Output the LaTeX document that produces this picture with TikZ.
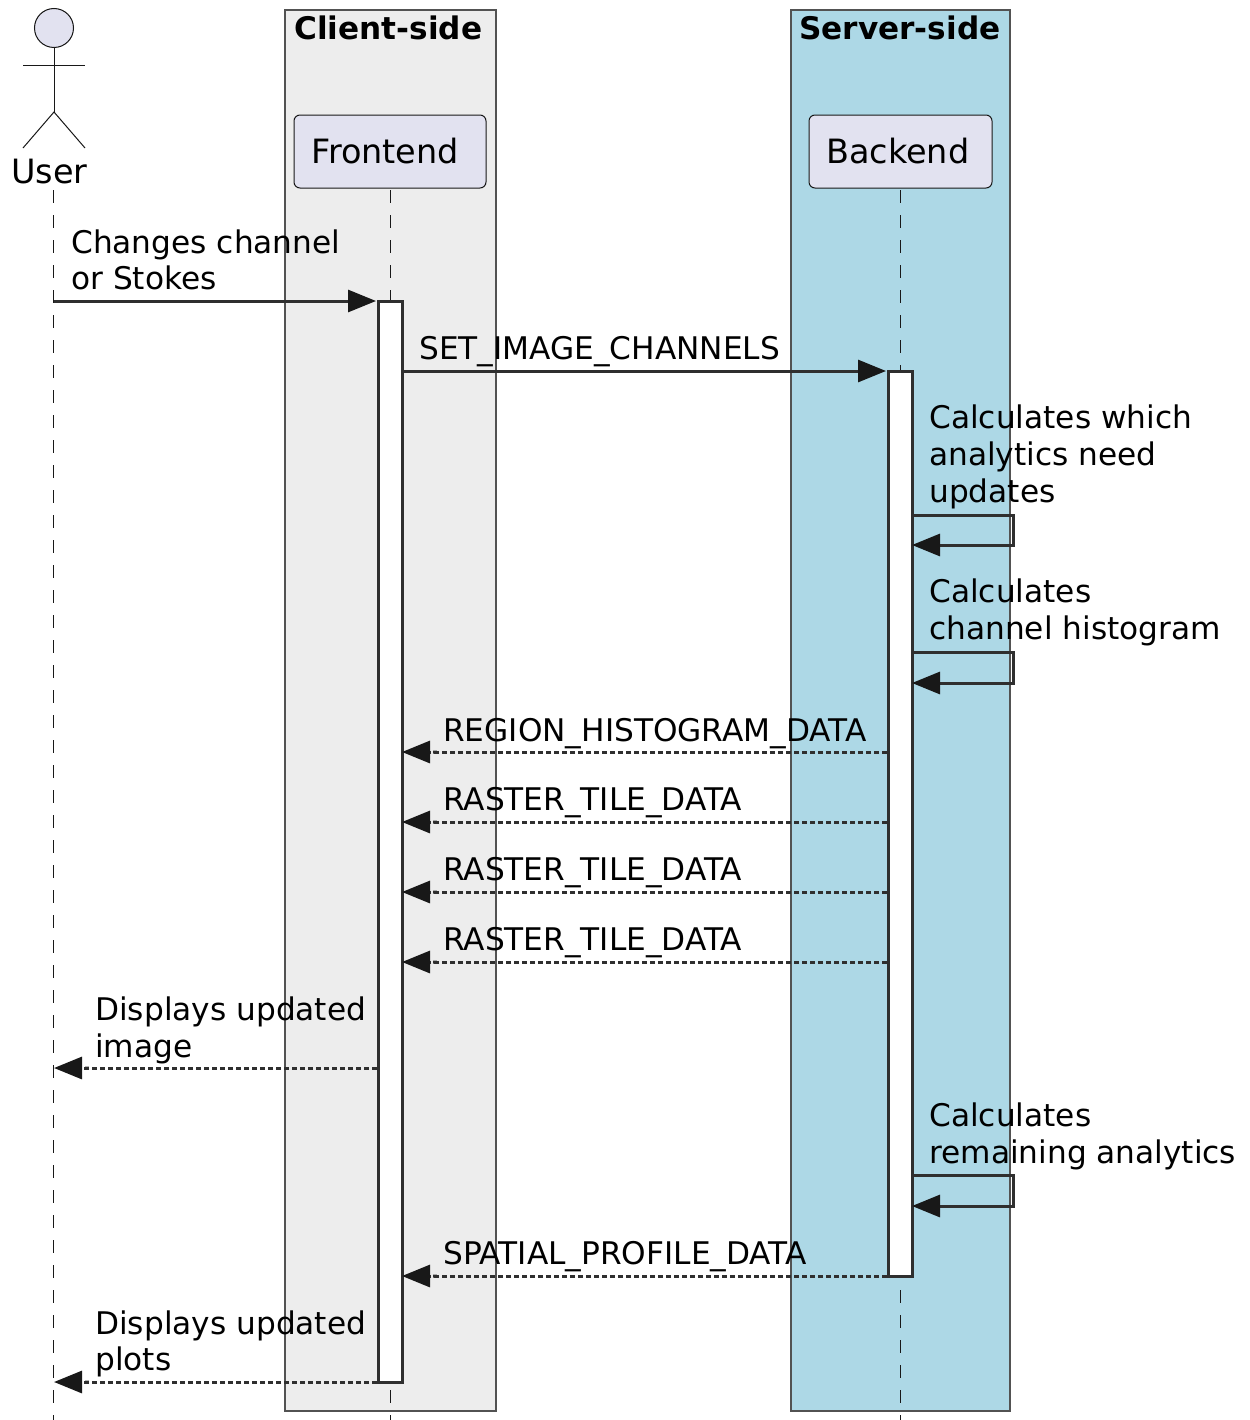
\documentclass[tikz,border=0pt]{standalone}
\usepackage{fontspec}
\setmainfont{DejaVu Sans}
\usetikzlibrary{arrows.meta}
\definecolor{ink}{HTML}{181818}
\definecolor{partfill}{HTML}{E2E2F0}
\definecolor{clientfill}{HTML}{EDEDED}
\definecolor{serverfill}{HTML}{ADD8E6}
\tikzset{
  x=0.75pt,y=-0.75pt,
  groupbox/.style={draw=ink!75,line width=0.8pt},
  grouptitle/.style={anchor=base west,inner sep=0pt,font=\fontsize{23.35}{27}\selectfont\bfseries,text=black},
  part/.style={draw=ink,fill=partfill,line width=0.75pt,rounded corners=4.5pt,minimum height=54.75pt,inner sep=0pt,outer sep=0pt,anchor=north west},
  parttext/.style={anchor=base west,inner sep=0pt,font=\fontsize{25.1}{30}\selectfont,text=black},
  actorline/.style={draw=ink,line width=0.75pt},
  lifeline/.style={draw=ink,line width=0.75pt,dash pattern=on 9.75pt off 9pt},
  activation/.style={draw=ink!90,fill=white,line width=2.25pt,inner sep=0pt,outer sep=0pt,minimum width=18pt,anchor=north west},
  msg/.style={draw=ink!90,line width=2.25pt,-{Triangle[length=21pt,width=16.5pt,color=ink]}},
  reply/.style={draw=ink!90,line width=2.25pt,dash pattern=on 3.6pt off 2.4pt,-{Butt Cap[sep=2.25pt]Triangle[length=21pt,width=16.5pt,color=ink]}},
  label/.style={anchor=base west,align=left,inner sep=0pt,font=\fontsize{23.4}{27.4}\selectfont,text=black},
}
\begin{document}
\begin{tikzpicture}
\useasboundingbox (0,0) rectangle (1249,1420);
% groups
\path[groupbox,fill=clientfill] (285,10) rectangle (496,1411);
\path[groupbox,fill=serverfill] (791,10) rectangle (1010,1411);
\node[grouptitle] (clienttitle) at (294,40) {Client-side};
\node[grouptitle] (servertitle) at (799,40) {Server-side};
% participants
\node[part,minimum width=144pt] (frontend) at (294,115) {};
\node[parttext] (frontendtext) at (311,163) {Frontend};
\node[part,minimum width=137.25pt] (backend) at (809,115) {};
\node[parttext] (backendtext) at (826,163) {Backend};
% actor
\node[circle,draw=ink,fill=partfill,line width=0.75pt,minimum size=29.25pt,inner sep=0pt] (head) at (54,28) {};
\coordinate (hip) at (54,112);
\coordinate (armL) at (23,66);
\coordinate (armR) at (85,66);
\coordinate (legL) at (23,148);
\coordinate (legR) at (85,148);
\draw[actorline] (head.south) -- (hip);
\draw[actorline] (armL) -- (armR);
\draw[actorline] (legL) -- (hip) -- (legR);
\node[parttext] (user) at (11,183) {User};
% lifelines
\coordinate (userTop) at (53,190);
\coordinate (frontTop) at (390,190);
\coordinate (backTop) at (900,190);
\coordinate (userEnd) at (53,1420);
\coordinate (frontEnd) at (390,1420);
\coordinate (backEnd) at (900,1420);
\draw[lifeline] (userTop) -- (userEnd);
\draw[lifeline] (frontTop) -- (frontEnd);
\draw[lifeline] (backTop) -- (backEnd);
% activations
\node[activation,minimum height=810.75pt] (factive) at (378,301) {};
\node[activation,minimum height=678.75pt] (bactive) at (888,371) {};
% free ends
\coordinate (u1) at (54,301);
\coordinate (u2) at (54,1068);
\coordinate (u3) at (54,1382);
\coordinate (f1) at (376,301);
\coordinate (f2) at (402,371);
\coordinate (b2) at (886,371);
\foreach \n/\y in {r1/752,r2/822,r3/892,r4/962,r5/1276}{
  \coordinate (\n f) at (402,\y);
  \coordinate (\n b) at (887,\y);
}
\coordinate (f3) at (377,1068);
\coordinate (f4) at (377,1382);
% messages
\draw[msg] (u1) -- (f1);
\draw[msg] (f2) -- (b2);
\foreach \a/\t in {515/545,652/683,1175/1206}{
  \draw[msg] (912,\a) -- (1013,\a) -- (1013,\t) -- (912,\t);
}
\draw[reply] (r1b) -- (r1f);
\draw[reply] (r2b) -- (r2f);
\draw[reply] (r3b) -- (r3f);
\draw[reply] (r4b) -- (r4f);
\draw[reply] (f3) -- (u2);
\draw[reply] (r5b) -- (r5f);
\draw[reply] (f4) -- (u3);
% labels
\node[label] (l1) at (71,289.7) {Changes channel\\or Stokes};
\node[label] (l2) at (419,359) {SET\_IMAGE\_CHANNELS};
\node[label] (l3) at (929,502) {Calculates which\\analytics need\\updates};
\node[label] (l4) at (929,639) {Calculates\\channel histogram};
\node[label] (l5) at (443,741) {REGION\_HISTOGRAM\_DATA};
\node[label] (l6) at (443,810) {RASTER\_TILE\_DATA};
\node[label] (l7) at (443,880) {RASTER\_TILE\_DATA};
\node[label] (l8) at (443,950) {RASTER\_TILE\_DATA};
\node[label] (l9) at (95,1057) {Displays updated\\image};
\node[label] (l10) at (929,1163) {Calculates\\remaining analytics};
\node[label] (l11) at (443,1264) {SPATIAL\_PROFILE\_DATA};
\node[label] (l12) at (95,1370.7) {Displays updated\\plots};
\end{tikzpicture}
\end{document}
